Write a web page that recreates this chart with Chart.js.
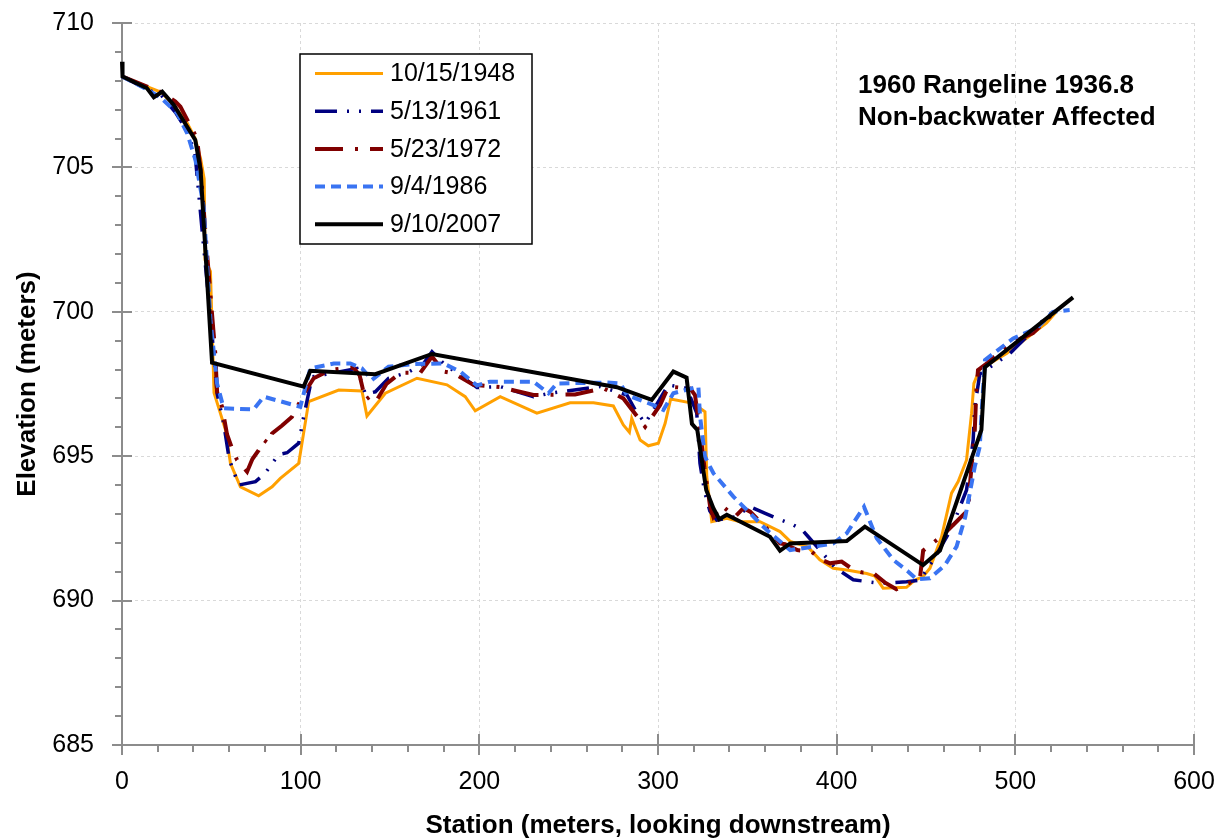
<!DOCTYPE html>
<html lang="en">
<head>
<meta charset="UTF-8">
<title>Rangeline 1936.8</title>
<script src="https://cdn.jsdelivr.net/npm/chart.js"></script>
<style>
  html, body { margin: 0; padding: 0; background: #fff; }
  #wrap { width: 1224px; height: 839px; }
</style>
</head>
<body>
<div id="wrap"><canvas id="grafico" width="1224" height="839"></canvas></div>
<script>
// series labels
const datas = ['10/15/1948', '5/13/1961', '5/23/1972', '9/4/1986', '9/10/2007'];

// 10/15/1948
const st1948 = [0, 14, 22, 29, 36, 41, 44, 46, 46.5, 49.5, 51.5, 54, 58, 60.7, 66.3, 76.5, 84, 88.6, 98.9, 104.5,
  121.3, 134.3, 137.1, 147.4, 165.1, 181.9, 192.1, 197.7, 211.7, 232.2, 250.8, 263.9, 275, 280.6, 284, 285.3,
  290, 294.6, 300.2, 304, 307.1, 319.8, 326.3, 327.3, 330.1, 338.5, 346, 357.1, 368.3, 374, 384, 390.6, 398.1,
  405.6, 416.8, 421.4, 426, 439.1, 443.8, 448.4, 452.2, 458.7, 464.3, 468, 472.7, 475.5, 476.8, 480, 495.1, 517.5, 523];
const el1948 = [708.15, 707.8, 707.6, 707.15, 706.6, 706.0, 705.3, 704.6, 701.8, 701.4, 697.2, 696.7, 695.9, 694.75, 693.94, 693.63, 693.94, 694.23, 694.75, 696.89,
  697.29, 697.26, 696.39, 697.18, 697.7, 697.47, 697.06, 696.57, 697.06, 696.49, 696.85, 696.85, 696.74, 696.08, 695.83, 696.31,
  695.56, 695.36, 695.45, 696.14, 696.98, 696.83, 696.54, 694.29, 692.73, 692.85, 692.73, 692.73, 692.39, 692.05, 691.85, 691.41, 691.12,
  691.06, 690.94, 690.85, 690.43, 690.46, 690.71, 690.83, 691.12, 692.21, 693.72, 694.12, 694.87, 696.49, 697.52, 698.0, 698.56, 699.62, 700.0];

// 5/13/1961
const st1961 = [0, 14, 22, 30, 37, 41, 45.7, 50, 53.2, 56.9, 60, 65.3, 74.7, 80, 87.7, 92.4, 98.9, 101.7, 106.4, 112,
  131.5, 134.3, 136.2, 141.8, 149.2, 160, 168.8, 173.5, 180, 198.7, 211.7, 230.3, 239.6, 267.6, 282.6, 287.3, 292.8,
  297.4, 305.8, 316.1, 321.7, 323.5, 326, 329, 332.9, 343.1, 351.6, 360, 366.5, 374, 380.4, 384.1, 399, 409.3, 424.2,
  431.7, 439.1, 446.6, 455, 464.3, 472.7, 474.5, 476.4, 477.3, 480.1, 485.7, 496.9, 517.5, 521.1];
const el1961 = [708.15, 707.7, 707.5, 706.9, 706.2, 705.4, 702.25, 699.5, 697.18, 696.14, 694.9, 694.0, 694.12, 694.4, 695.06, 695.12, 695.45, 696.37, 697.75, 697.81,
  698.04, 697.52, 697.15, 697.23, 697.7, 697.9, 698.21, 698.62, 698.21, 697.38, 697.41, 697.06, 697.18, 697.41, 697.12, 696.6, 696.14,
  696.6, 697.47, 697.35, 696.49, 694.75, 693.8, 693.1, 692.79, 692.9, 693.25, 693.02, 692.85, 692.67, 692.47, 692.21, 691.15, 690.72, 690.6,
  690.62, 690.65, 690.71, 691.5, 692.5, 693.83, 694.64, 695.56, 696.71, 697.84, 698.08, 698.55, 699.83, 700.0];

// 5/23/1972
const st1972 = [0, 14, 22, 29.9, 32.7, 42, 44, 47.6, 52.2, 53.2, 56, 58.8, 61.6, 64.4, 70, 73, 76.5, 79.3, 82.1, 84,
  89.6, 95.2, 102.6, 107.3, 116.6, 129.6, 133, 136.2, 139.9, 142.7, 148, 155.8, 167, 173.5, 180, 185.6, 196.7,
  211.7, 230.3, 253.6, 269.5, 280.6, 292.8, 301.2, 305.8, 318, 320.7, 323.5, 326, 329.2, 331, 335.7, 343.1, 347.8,
  351.6, 363.6, 368.3, 371.1, 378, 386, 391.6, 396.3, 402.8, 410.2, 414.9, 419.5, 426.9, 433.4, 438.1, 446.6, 448.4,
  459.6, 467, 473.6, 474.5, 477.3, 478.2, 479.1, 483, 496.9, 509.9, 517.5, 522];
const el1972 = [708.15, 707.8, 707.6, 707.28, 707.1, 706.0, 704.9, 702.03, 698.56, 697.24, 696.71, 695.75, 695.27, 694.87, 694.46, 694.9, 695.21, 695.56, 695.44, 695.79,
  696.06, 696.37, 697.24, 697.7, 697.99, 698.07, 697.8, 696.95, 697.12, 696.95, 697.5, 697.89, 697.89, 698.45, 697.93, 697.87, 697.47,
  697.39, 697.12, 697.14, 697.35, 697.0, 696.02, 696.77, 697.41, 697.35, 697.12, 695.91, 694.6, 693.25, 692.9, 693.29, 692.9, 693.2,
  693.08, 692.33, 691.98, 691.95, 691.75, 691.69, 691.41, 691.29, 691.35, 691.03, 690.97, 691.0, 690.63, 690.39, 690.54, 690.77, 691.73,
  692.27, 692.73, 693.14, 693.95, 695.91, 697.29, 697.98, 698.16, 698.91, 699.26, 699.72, 700.0];

// 9/4/1986
const st1986 = [0, 14, 22, 30.9, 36.5, 41.1, 45.7, 49.5, 53.2, 56.9, 73.7, 79.3, 99.8, 105.4, 118.5, 127.8, 134.3, 139.9, 149.2, 163.2,
  180, 189.3, 198.7, 206, 230.3, 238.7, 243.4, 271.4, 278.9, 282.6, 297.4, 303, 308.6, 322.6, 323.5, 326.3, 331, 342.2,
  351.6, 360.9, 374, 387, 398.1, 405.6, 415.3, 422.4, 431.7, 440.1, 444.7, 452.2, 460.6, 467.1, 472, 477.3, 480.1, 481.1,
  483, 498.8, 511.9, 521.1, 530.4];
const el1986 = [708.15, 707.7, 707.4, 706.87, 706.18, 705.26, 703.64, 699.72, 697.52, 696.66, 696.62, 697.06, 696.71, 698.04, 698.21, 698.21, 698.04, 697.64, 698.1, 698.19,
  698.21, 697.93, 697.45, 697.58, 697.58, 697.18, 697.52, 697.55, 697.52, 697.12, 696.77, 696.6, 697.18, 697.41, 696.4, 694.98, 694.41, 693.6,
  693.02, 692.44, 691.75, 691.87, 691.98, 692.33, 693.25, 692.16, 691.41, 691.0, 690.74, 690.77, 691.23, 691.87, 692.9, 694.64, 695.33, 696.49,
  698.33, 699.08, 699.43, 700.0, 700.06];

// 9/10/2007
const st2007 = [0, 0.3, 14, 17.8, 22.5, 29, 41, 44, 50.4, 101.7, 105.4, 141.8, 173.5, 277, 296.5, 308.6, 316, 319, 322, 327,
  331, 334.3, 338.5, 362.7, 368.3, 374, 405.6, 415.8, 448.4, 457.8, 481, 483, 532.3];
const el2007 = [708.66, 708.15, 707.74, 707.43, 707.62, 707.16, 705.95, 704.9, 698.24, 697.41, 697.96, 697.84, 698.54, 697.39, 696.95, 697.93, 697.72, 696.12, 695.91, 693.83,
  693.2, 692.82, 692.97, 692.21, 691.73, 691.98, 692.06, 692.56, 691.23, 691.73, 695.91, 698.08, 700.5];

const cores = ['#ffa000', '#000080', '#800000', '#3a74f2', '#000000'];
const larguras = [3, 3.5, 4, 4, 4];
const tracos = [[], [22, 10, 2, 10, 2, 10], [28, 12, 3, 12], [10, 6], []];

function pontos(xs, ys) {
  return xs.map((x, i) => ({ x: x, y: ys[i] }));
}

const series = [[st1948, el1948], [st1961, el1961], [st1972, el1972], [st1986, el1986], [st2007, el2007]];
const ordem = [4, 3, 2, 1, 0];

const fonte = "'Liberation Sans', Arial, sans-serif";

// minor / major tick marks on the axes
const marcasEixo = {
  id: 'marcasEixo',
  beforeDatasetsDraw(chart) {
    const ctx = chart.ctx;
    const xs = chart.scales.x, ys = chart.scales.y;
    const area = chart.chartArea;
    ctx.save();
    ctx.strokeStyle = '#8c8c8c';
    ctx.lineWidth = 2;
    ctx.beginPath();
    for (let v = 685; v <= 710; v++) {
      const py = Math.round(ys.getPixelForValue(v));
      if (v % 5 === 0) { ctx.moveTo(area.left - 10, py); ctx.lineTo(area.left + 10, py); }
      else { ctx.moveTo(area.left - 7, py); ctx.lineTo(area.left, py); }
    }
    for (let v = 0; v <= 600; v += 20) {
      const px = Math.round(xs.getPixelForValue(v));
      if (v % 100 === 0) { ctx.moveTo(px, area.bottom - 11); ctx.lineTo(px, area.bottom + 10); }
      else { ctx.moveTo(px, area.bottom); ctx.lineTo(px, area.bottom + 7); }
    }
    ctx.stroke();
    ctx.restore();
  }
};

// legend box and the title text in the corner
const legendaTitulo = {
  id: 'legendaTitulo',
  afterDraw(chart) {
    const ctx = chart.ctx;
    ctx.save();
    ctx.fillStyle = '#fff';
    ctx.fillRect(300, 54, 232, 190);
    ctx.strokeStyle = '#000';
    ctx.lineWidth = 1.5;
    ctx.strokeRect(300, 54, 232, 190);
    ctx.font = '25px ' + fonte;
    ctx.textBaseline = 'middle';
    ctx.textAlign = 'left';
    datas.forEach((d, i) => {
      const y = 73.5 + i * 37.7;
      ctx.beginPath();
      ctx.strokeStyle = cores[i];
      ctx.lineWidth = larguras[i];
      ctx.setLineDash(tracos[i]);
      ctx.moveTo(315, y);
      ctx.lineTo(383, y);
      ctx.stroke();
      ctx.setLineDash([]);
      ctx.fillStyle = '#000';
      ctx.fillText(d, 390, y + 1);
    });
    ctx.font = 'bold 26px ' + fonte;
    ctx.textBaseline = 'alphabetic';
    ctx.fillText('1960 Rangeline 1936.8', 858, 93);
    ctx.fillText('Non-backwater Affected', 858, 125);
    ctx.restore();
  }
};

new Chart(document.getElementById('grafico'), {
  type: 'scatter',
  data: {
    datasets: series.map((s, i) => ({
      label: datas[i],
      data: pontos(s[0], s[1]),
      showLine: true,
      borderColor: cores[i],
      backgroundColor: cores[i],
      borderWidth: larguras[i],
      borderDash: tracos[i],
      pointRadius: 0,
      tension: 0,
      clip: false,
      order: ordem[i]
    }))
  },
  options: {
    responsive: false,
    animation: false,
    devicePixelRatio: 1,
    layout: { padding: { top: 23, right: 30, left: 0, bottom: 0 } },
    plugins: { legend: { display: false }, tooltip: { enabled: false } },
    scales: {
      x: {
        type: 'linear',
        min: 0, max: 600,
        ticks: { stepSize: 100, color: '#000', padding: 22, font: { family: fonte, size: 25 } },
        grid: { color: '#d9d9d9', lineWidth: 1, drawTicks: false },
        border: { color: '#8c8c8c', width: 2, dash: [3, 3] },
        title: {
          display: true,
          text: 'Station (meters, looking downstream)',
          color: '#000',
          font: { family: fonte, size: 26, weight: 'bold', lineHeight: 1 },
          padding: { top: 0, bottom: 0 }
        },
        afterFit: (scale) => {
          scale.height = 94;
          scale.paddingLeft = 0;
          scale.paddingRight = 0;
        }
      },
      y: {
        type: 'linear',
        min: 685, max: 710,
        ticks: { stepSize: 5, color: '#000', padding: 28, font: { family: fonte, size: 25 } },
        grid: { color: '#d9d9d9', lineWidth: 1, drawTicks: false },
        border: { color: '#8c8c8c', width: 2, dash: [3, 3] },
        title: {
          display: true,
          text: 'Elevation (meters)',
          color: '#000',
          font: { family: fonte, size: 26, weight: 'bold', lineHeight: 1 },
          padding: { top: 15, bottom: 0 }
        },
        afterFit: (scale) => {
          scale.width = 122;
          scale.paddingTop = 0;
          scale.paddingBottom = 0;
        }
      }
    }
  },
  plugins: [marcasEixo, legendaTitulo]
});
</script>
</body>
</html>
